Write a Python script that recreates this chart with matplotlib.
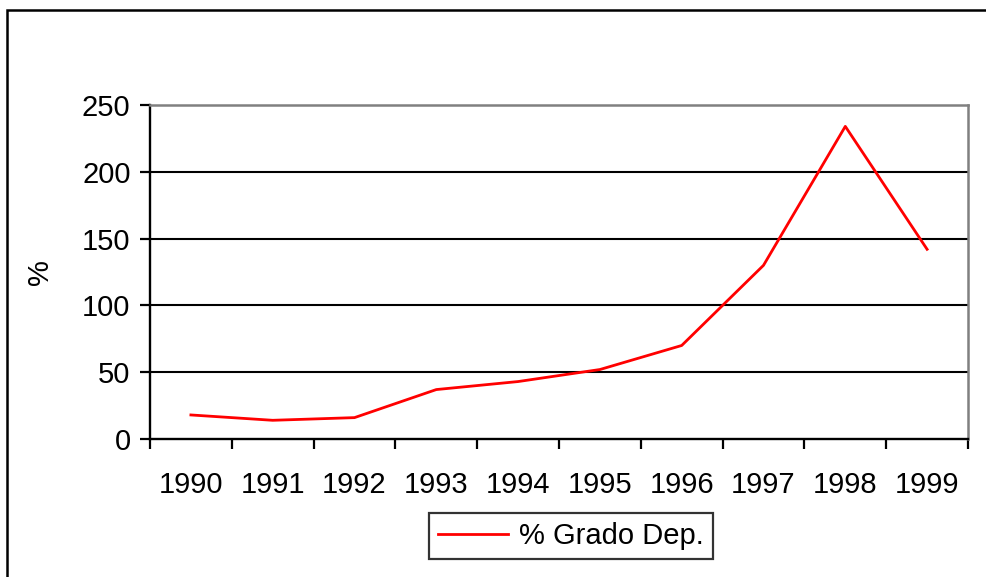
import matplotlib
matplotlib.use("Agg")
import matplotlib.pyplot as plt
from matplotlib.patches import Rectangle

plt.rcParams['font.family'] = ['Liberation Sans', 'DejaVu Sans']
plt.rcParams['font.size'] = 21

years = ['1990', '1991', '1992', '1993', '1994', '1995', '1996', '1997', '1998', '1999']
grado_dep = [18, 14, 16, 37, 43, 52, 70, 130, 234, 142]
y_ticks = [0, 50, 100, 150, 200, 250]

fig = plt.figure(figsize=(9.86, 5.77), dpi=100)
ax = fig.add_axes([150/986, 1-439/577, (968-150)/986, (439-105)/577])

# borde exterior del grafico (estilo Excel)
fig.patches.append(Rectangle((7/986, -0.1), 1.2, 1-10/577+0.1, transform=fig.transFigure,
                             fill=False, edgecolor='black', linewidth=1.8))

x = list(range(len(years)))
line, = ax.plot(x, grado_dep, color='red', linewidth=2.0, label='% Grado Dep.')

ax.set_xlim(-0.5, len(years)-0.5)
ax.set_ylim(0, 250)
ax.set_yticks(y_ticks)
for v in y_ticks[1:-1]:
    ax.axhline(v, color='black', linewidth=1.5, zorder=0)

ax.set_xticks([i-0.5 for i in range(len(years)+1)])
ax.set_xticklabels([])
ax.set_xticks(x, minor=True)
ax.set_xticklabels(years, minor=True)
ax.tick_params(axis='x', which='major', length=7, width=1.6, direction='out')
ax.tick_params(axis='x', which='minor', length=0, pad=23)
ax.tick_params(axis='y', length=7, width=1.6, direction='out', pad=7)

for s in ['left', 'bottom']:
    ax.spines[s].set_color('black')
    ax.spines[s].set_linewidth(1.7)
for s in ['top', 'right']:
    ax.spines[s].set_color('#808080')
    ax.spines[s].set_linewidth(1.8)

ax.set_ylabel('%', labelpad=20)

leg = fig.legend(handles=[line], loc='center', bbox_to_anchor=(571/986, 1-536/577),
                 frameon=True, fancybox=False, edgecolor='black', handlelength=2.4,
                 handletextpad=0.4, borderpad=0.3, borderaxespad=0)
leg.get_frame().set_linewidth(1.6)

plt.savefig('out.png', dpi=100)
plt.close()
